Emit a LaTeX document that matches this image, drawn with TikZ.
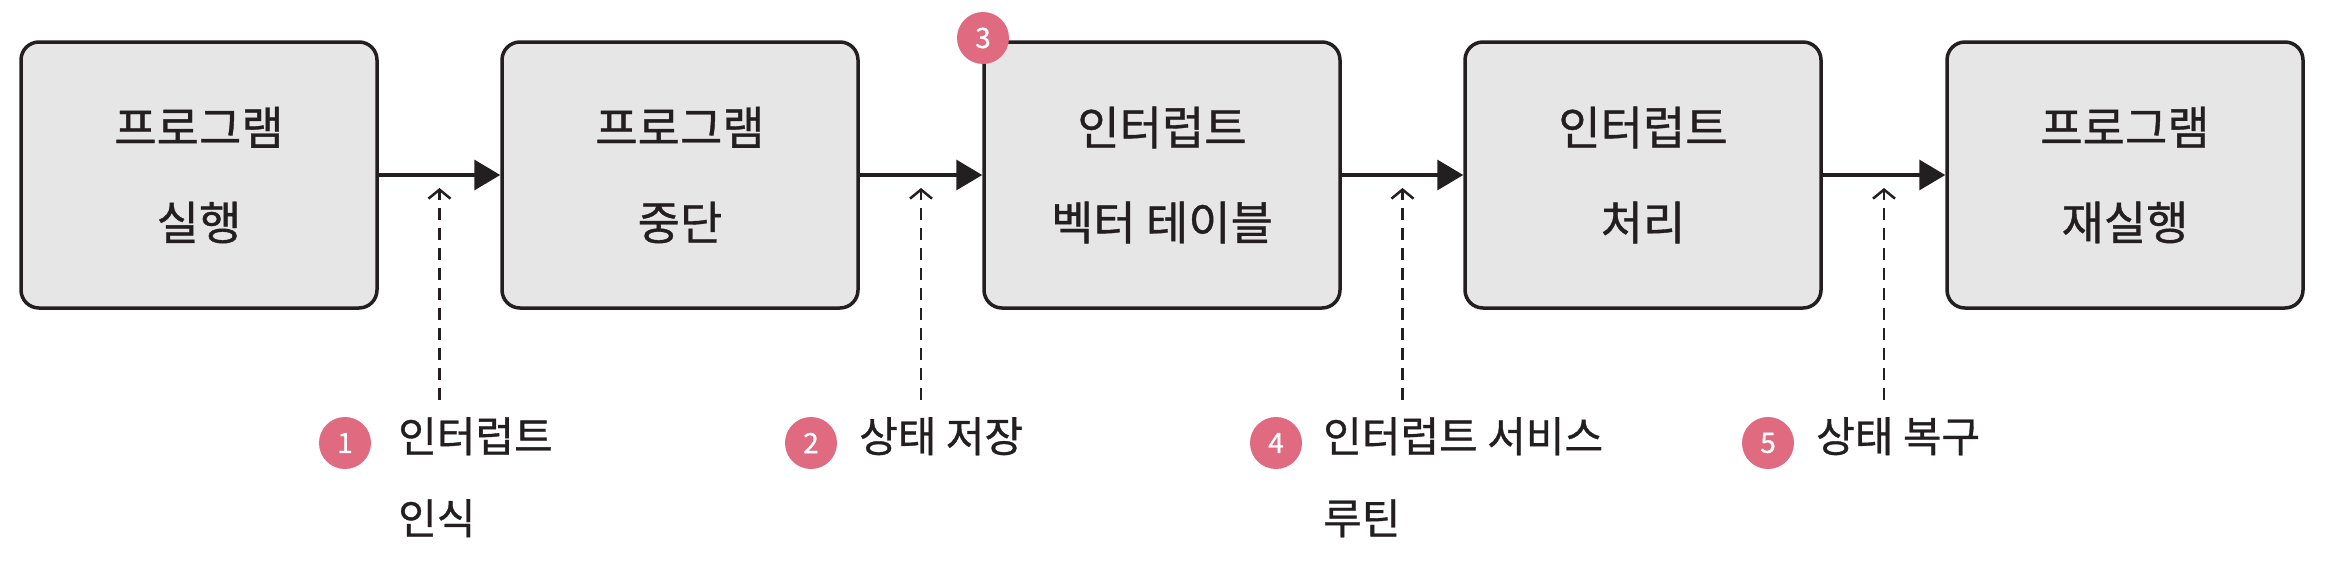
\documentclass[tikz,border=0pt]{standalone}
\usepackage{fontspec}
\setmainfont{Noto Sans CJK KR}
\newfontfamily\handfont{Noto Sans CJK KR}[FakeBold=0.8]
\usetikzlibrary{arrows.meta}
\definecolor{boxfill}{HTML}{E6E6E6}
\definecolor{ink}{HTML}{231F20}
\definecolor{badgepink}{HTML}{E06A7F}
\begin{document}
\begin{tikzpicture}[x=1pt,y=-1pt,
  stepbox/.style={draw=ink, fill=boxfill, line width=3.5pt, rounded corners=18pt,
    minimum width=356pt, minimum height=266pt, align=center,
    font=\handfont\fontsize{46}{95}\selectfont, text=ink},
  flow/.style={draw=ink, line width=3.5pt, -{Triangle[length=26pt,width=30pt]}},
  hint/.style={draw=ink, line width=2.5pt, dash pattern=on 12pt off 8pt,
    -{Straight Barb[length=9pt,width=22pt,line width=2.5pt]}},
  badge/.style={circle, fill=badgepink, minimum size=52pt, inner sep=0pt,
    text=white, font=\handfont\fontsize{28}{28}\selectfont},
  lbl/.style={anchor=north west, align=left, inner sep=0pt, text=ink,
    font=\handfont\fontsize{42}{82}\selectfont}
]
\useasboundingbox (0,0) rectangle (2330,560);
\fill[white] (0,0) rectangle (2330,560);

\node[stepbox] (b1) at (199,175) {프로그램\\실행};
\node[stepbox] (b2) at (680,175) {프로그램\\중단};
\node[stepbox] (b3) at (1162,175) {인터럽트\\벡터 테이블};
\node[stepbox] (b4) at (1643,175) {인터럽트\\처리};
\node[stepbox] (b5) at (2125,175) {프로그램\\재실행};

\draw[flow] (b1) -- (b2);
\draw[flow] (b2) -- (b3);
\draw[flow] (b3) -- (b4);
\draw[flow] (b4) -- (b5);

\coordinate (s1) at (439.5,400); \coordinate (t1) at (439.5,188);
\coordinate (s2) at (921,400);   \coordinate (t2) at (921,188);
\coordinate (s4) at (1402.5,400);\coordinate (t4) at (1402.5,188);
\coordinate (s5) at (1884,400);  \coordinate (t5) at (1884,188);
\draw[hint] (s1) -- (t1);
\draw[hint] (s2) -- (t2);
\draw[hint] (s4) -- (t4);
\draw[hint] (s5) -- (t5);

\node[badge] (c3) at (983,38) {3};
\node[badge] (c1) at (345,443) {1};
\node[badge] (c2) at (811,443) {2};
\node[badge] (c4) at (1276,443) {4};
\node[badge] (c5) at (1768,443) {5};

\node[lbl] (l1) at (398,417) {인터럽트\\인식};
\node[lbl] (l2) at (859,417) {상태 저장};
\node[lbl] (l4) at (1323,417) {인터럽트 서비스\\루틴};
\node[lbl] (l5) at (1816,417) {상태 복구};
\end{tikzpicture}
\end{document}
